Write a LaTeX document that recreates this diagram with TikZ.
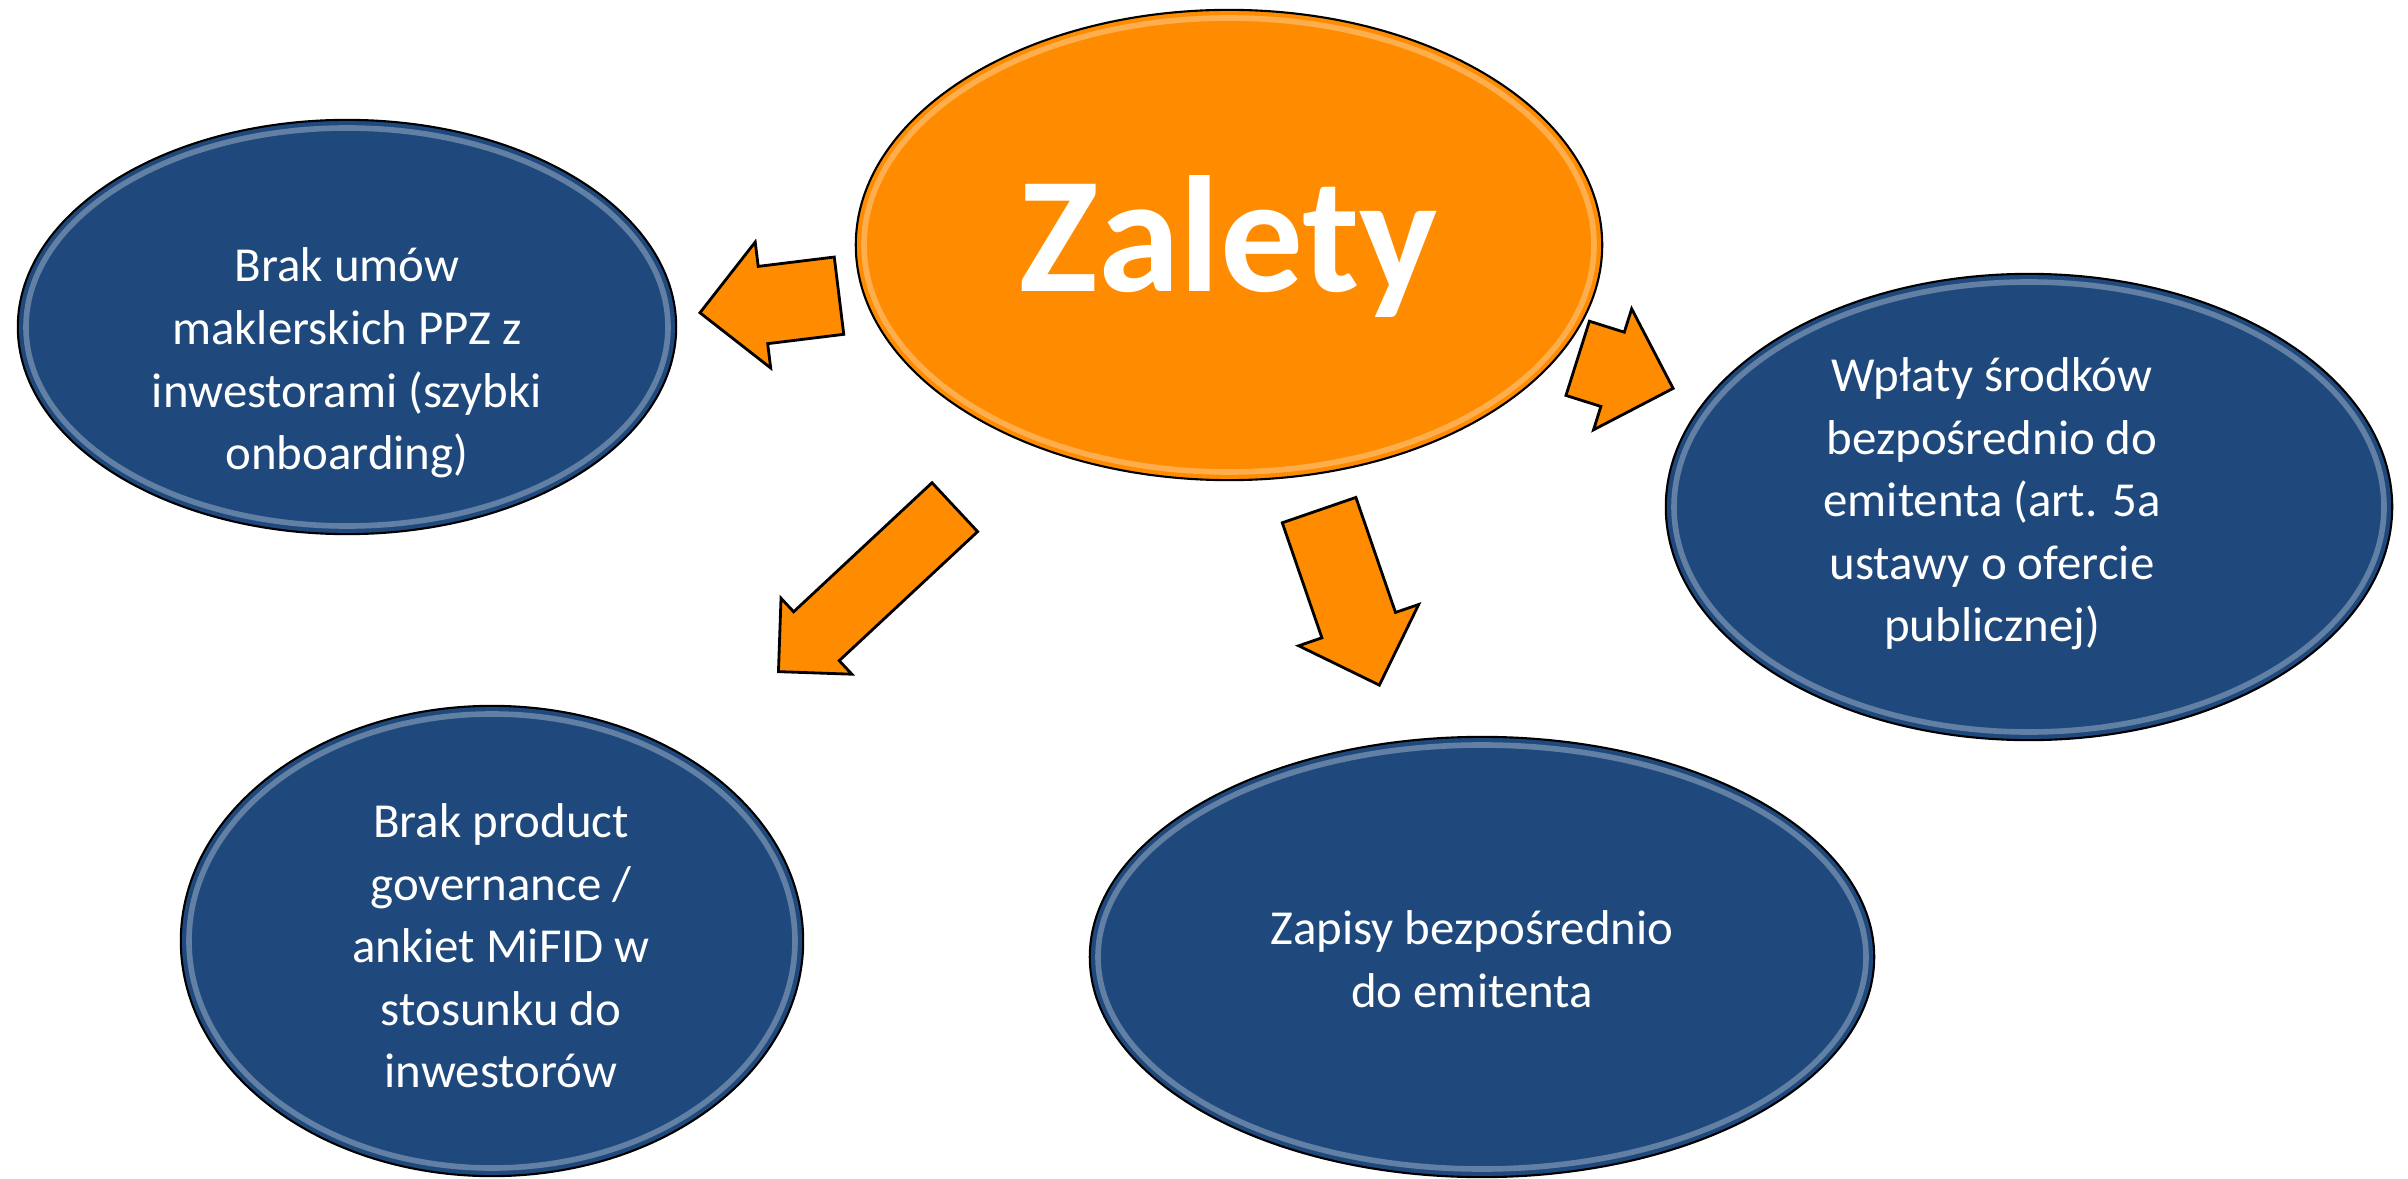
\documentclass[tikz,border=0pt]{standalone}
\usepackage{fontspec}
\setmainfont{Carlito}
\usetikzlibrary{shapes.geometric, shapes.arrows, calc}
\definecolor{bubbleblue}{RGB}{31,73,125}
\definecolor{huborange}{RGB}{255,140,0}

\begin{document}
\begin{tikzpicture}[
    x=0.01cm, y=-0.01cm,
    bubble/.style={ellipse, draw=black, line width=0.6pt, fill=bubbleblue, inner sep=0pt},
    hub/.style={bubble, fill=huborange},
    bubbletext/.style={text=white, align=center, font=\fontsize{13.9}{17.8}\selectfont},
    gloss/.style={draw=white, opacity=0.3, line width=1.6pt},
    blockarrow/.style={single arrow, draw=black, line width=0.8pt, fill=huborange, anchor=tip,
        inner xsep=0pt, inner ysep=0.375cm, single arrow head extend=0.245cm}
]
\useasboundingbox (0,0) rectangle (2408,1179);
% bubbles
\node[hub, minimum width=7.46cm, minimum height=4.70cm] (hub) at (1229,245) {};
\node[bubble, minimum width=6.58cm, minimum height=4.14cm] (brak) at (347,327) {};
\node[bubble, minimum width=7.26cm, minimum height=4.66cm] (wplaty) at (2029,507) {};
\node[bubble, minimum width=6.22cm, minimum height=4.70cm] (product) at (492,941) {};
\node[bubble, minimum width=7.84cm, minimum height=4.40cm] (zapisy) at (1482,957) {};
\draw[gloss] (hub) ellipse [x radius=365, y radius=227];
\draw[gloss] (brak) ellipse [x radius=321, y radius=199];
\draw[gloss] (wplaty) ellipse [x radius=355, y radius=225];
\draw[gloss] (product) ellipse [x radius=303, y radius=227];
\draw[gloss] (zapisy) ellipse [x radius=384, y radius=212];
% texts
\node[text=white, anchor=base, font=\fontsize{47}{50}\bfseries] (hub-txt) at (1229,292) {Zalety};
\node[bubbletext] (brak-txt) at (347,363) {Brak umów\\maklerskich PPZ z\\inwestorami (szybki\\onboarding)};
\node[bubbletext] (wplaty-txt) at (1992,504) {Wpłaty środków\\bezpośrednio do\\emitenta (art. 5a\\ustawy o ofercie\\publicznej)};
\node[bubbletext] (product-txt) at (501,946) {Brak product\\governance /\\ankiet MiFID w\\stosunku do\\inwestorów};
\node[bubbletext] (zapisy-txt) at (1472,959) {Zapisy bezpośrednio\\do emitenta};
% arrows
\node[blockarrow, minimum height=1.40cm, rotate=187] (arr-brak) at (698,313) {};
\node[blockarrow, minimum height=2.41cm, inner ysep=0.32cm, single arrow head extend=0.185cm, rotate=223] (arr-product) at (777,673) {};
\node[blockarrow, minimum height=1.85cm, rotate=-71] (arr-zapisy) at (1380,687) {};
\node[blockarrow, minimum height=1.00cm, rotate=-17.5] (arr-wplaty) at (1675,389) {};
\end{tikzpicture}
\end{document}
